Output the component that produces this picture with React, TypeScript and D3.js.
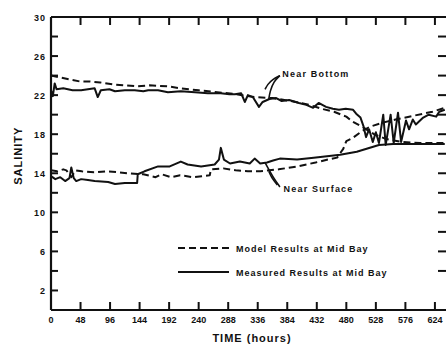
import * as d3 from "d3";

const xTicks = [0, 48, 96, 144, 192, 240, 288, 336, 384, 432, 480, 528, 576, 624];
const yLabelTicks = [2, 6, 10, 14, 18, 22, 26, 30];
const yMinorTicks = [4, 8, 12, 16, 20, 24, 28];
const rightTicks = [4, 6, 8, 10, 12, 14, 16, 18, 20, 22, 24, 26, 28];

// [hours, salinity]
const modelBottom: [number, number][] = [
  [0, 24.0], [16, 23.8], [31, 23.6], [47, 23.4], [63, 23.4], [80, 23.3], [100, 23.1],
  [120, 23.0], [140, 22.9], [160, 23.0], [190, 22.9], [210, 22.7], [240, 22.5],
  [270, 22.3], [300, 22.1], [330, 21.8], [360, 21.7], [390, 21.4], [420, 21.0],
  [440, 20.6], [460, 20.3], [480, 19.8], [490, 19.3], [510, 18.6], [525, 18.0],
  [545, 17.5], [570, 17.2], [600, 17.1], [640, 17.1],
];

const measuredBottom: [number, number][] = [
  [0, 22.5], [3, 21.9], [6, 23.2], [9, 22.6], [20, 22.7], [35, 22.5], [49, 22.5],
  [60, 22.6], [71, 22.7], [76, 21.8], [81, 22.5], [95, 22.6], [104, 22.4], [120, 22.5],
  [136, 22.5], [150, 22.4], [158, 22.5], [174, 22.5], [190, 22.3], [211, 22.4],
  [234, 22.3], [255, 22.2], [276, 22.2], [290, 22.1], [299, 22.1], [309, 22.2],
  [315, 21.3], [320, 22.0], [328, 21.8], [338, 20.8], [344, 21.3], [355, 21.6],
  [366, 21.7], [375, 21.4], [387, 21.5], [403, 21.2], [415, 21.0], [426, 20.7],
  [435, 21.2], [447, 20.8], [458, 20.6], [468, 20.5], [479, 20.6], [491, 20.5],
  [496, 20.1], [503, 19.7], [508, 18.8], [512, 17.7], [517, 18.5], [523, 17.2],
  [528, 18.2], [533, 17.1], [540, 20.0], [544, 16.9], [552, 20.0], [557, 17.1],
  [564, 20.2], [569, 17.2], [577, 19.4], [582, 18.5], [588, 19.5], [593, 19.0],
  [605, 19.7], [614, 20.0], [626, 19.8], [631, 20.3], [640, 20.5],
];

const modelSurface: [number, number][] = [
  [0, 14.3], [10, 14.2], [20, 14.4], [25, 14.3], [33, 13.6], [40, 14.3], [50, 14.2],
  [70, 14.1], [90, 14.2], [110, 14.1], [125, 14.0], [150, 13.9], [170, 13.6],
  [180, 13.9], [195, 13.6], [210, 13.8], [230, 13.6], [245, 13.7], [258, 13.8],
  [260, 14.4], [280, 14.5], [300, 14.3], [320, 14.2], [340, 14.2], [370, 14.4],
  [400, 14.7], [430, 15.1], [450, 15.4], [465, 15.6], [475, 16.5], [480, 17.3],
  [490, 17.6], [505, 18.3], [520, 18.8], [540, 19.2], [560, 19.5], [590, 19.9],
  [620, 20.3], [640, 20.7],
];

const measuredSurface: [number, number][] = [
  [0, 13.7], [7, 13.4], [15, 13.6], [23, 13.2], [30, 13.5], [33, 14.6], [37, 13.5],
  [41, 13.2], [49, 13.4], [60, 13.3], [71, 13.2], [93, 13.1], [104, 12.9], [120, 13.0],
  [140, 13.0], [141, 13.9], [152, 14.2], [174, 14.7], [193, 14.7], [211, 15.2],
  [222, 14.9], [244, 14.7], [266, 14.9], [273, 15.4], [276, 16.6], [281, 15.4],
  [291, 15.0], [307, 15.2], [323, 15.0], [331, 15.5], [340, 15.0], [351, 15.1],
  [361, 15.3], [372, 15.5], [400, 15.4], [427, 15.6], [470, 15.9], [497, 16.2],
  [533, 16.9], [556, 17.0], [600, 17.0], [640, 17.0],
];

// annotation leaders, in [hours, salinity]
const bottomLeaders: [number, number][][] = [
  [[372, 24.0], [360, 23.6], [352, 23.1], [348, 22.6]],
  [[372, 24.0], [362, 23.4], [356, 22.4], [354, 21.6]],
];
const surfaceLeaders: [number, number][][] = [
  [[372, 12.6], [361, 13.6], [353, 14.5], [348, 15.1]],
  [[368, 12.8], [358, 13.6], [354, 14.2]],
];

const legendItems = [
  { label: "Model Results at Mid Bay", dash: "7,4" },
  { label: "Measured Results at Mid Bay", dash: "none" },
];

const font = "'Liberation Sans', Arial, sans-serif";
const ink = "#111";

export default function App() {
  const width = 446;
  const height = 346;
  const x = d3.scaleLinear([0, 642], [51, 446]);
  const y = d3.scaleLinear([0, 30], [310, 17]);
  const line = d3.line<[number, number]>((d) => x(d[0]), (d) => y(d[1]));
  const leader = d3
    .line<[number, number]>((d) => x(d[0]), (d) => y(d[1]))
    .curve(d3.curveBasis);

  const x0 = x(0);
  const x1 = x(642);
  const y0 = y(0);
  const yTop = y(30);

  return (
    <svg
      width={width}
      height={height}
      style={{ position: "absolute", left: 0, top: 0, background: "#fff" }}
      fontFamily={font}
      fontWeight="bold"
    >
      {/* frame */}
      <g stroke={ink} strokeWidth={2.2} fill="none">
        <line x1={x0} x2={x1} y1={yTop} y2={yTop} />
        <line x1={x0} x2={x1} y1={y0} y2={y0} />
        <line x1={x0} x2={x0} y1={yTop} y2={y0} />
      </g>
      <g stroke={ink} strokeWidth={2}>
        {xTicks.slice(1).map((t) => (
          <g key={t}>
            <line x1={x(t)} x2={x(t)} y1={y0} y2={y0 - 8} />
            <line x1={x(t)} x2={x(t)} y1={yTop} y2={yTop + 8} />
          </g>
        ))}
        {[...yLabelTicks.slice(0, -1), ...yMinorTicks].map((v) => (
          <line key={v} x1={x0} x2={x0 + 7} y1={y(v)} y2={y(v)} />
        ))}
        {rightTicks.map((v) => (
          <line key={v} x1={x1 - 8} x2={x1} y1={y(v)} y2={y(v)} />
        ))}
      </g>
      <g fill={ink} fontSize={9}>
        {xTicks.map((t) => (
          <text key={t} x={x(t)} y={y0 + 13} textAnchor="middle">
            {t}
          </text>
        ))}
        {yLabelTicks.map((v) => (
          <text key={v} x={x0 - 5} y={y(v) + 3.5} textAnchor="end" letterSpacing={1}>
            {v}
          </text>
        ))}
      </g>
      <text
        transform={`translate(22,${y(15.8)}) rotate(-90)`}
        textAnchor="middle"
        fontSize={11}
        letterSpacing={1}
        fill={ink}
      >
        SALINITY
      </text>
      <text
        x={252}
        y={342}
        textAnchor="middle"
        fontSize={11}
        letterSpacing={1}
        fill={ink}
      >
        TIME (hours)
      </text>

      {/* series */}
      <g fill="none" stroke={ink} strokeWidth={2} strokeLinejoin="round">
        <path d={line(modelBottom) ?? ""} strokeDasharray="7,4" />
        <path d={line(modelSurface) ?? ""} strokeDasharray="7,4" />
        <path d={line(measuredBottom) ?? ""} />
        <path d={line(measuredSurface) ?? ""} />
      </g>

      {/* annotations */}
      <g fill="none" stroke={ink} strokeWidth={1.6}>
        {[...bottomLeaders, ...surfaceLeaders].map((l, i) => (
          <path key={i} d={leader(l) ?? ""} />
        ))}
      </g>
      <g fill={ink} fontSize={9} letterSpacing={1.2}>
        <text x={x(376)} y={y(24.2) + 3.5}>Near Bottom</text>
        <text x={x(378)} y={y(12.4) + 3.5}>Near Surface</text>
      </g>

      {/* legend */}
      <g>
        {legendItems.map((item, i) => (
          <g key={item.label} transform={`translate(178,${248 + i * 24})`}>
            <line
              x1={0}
              x2={51}
              y1={0}
              y2={0}
              stroke={ink}
              strokeWidth={2}
              strokeDasharray={item.dash}
            />
            <text x={58} y={3.5} fontSize={9} letterSpacing={1} fill={ink}>
              {item.label}
            </text>
          </g>
        ))}
      </g>
    </svg>
  );
}
